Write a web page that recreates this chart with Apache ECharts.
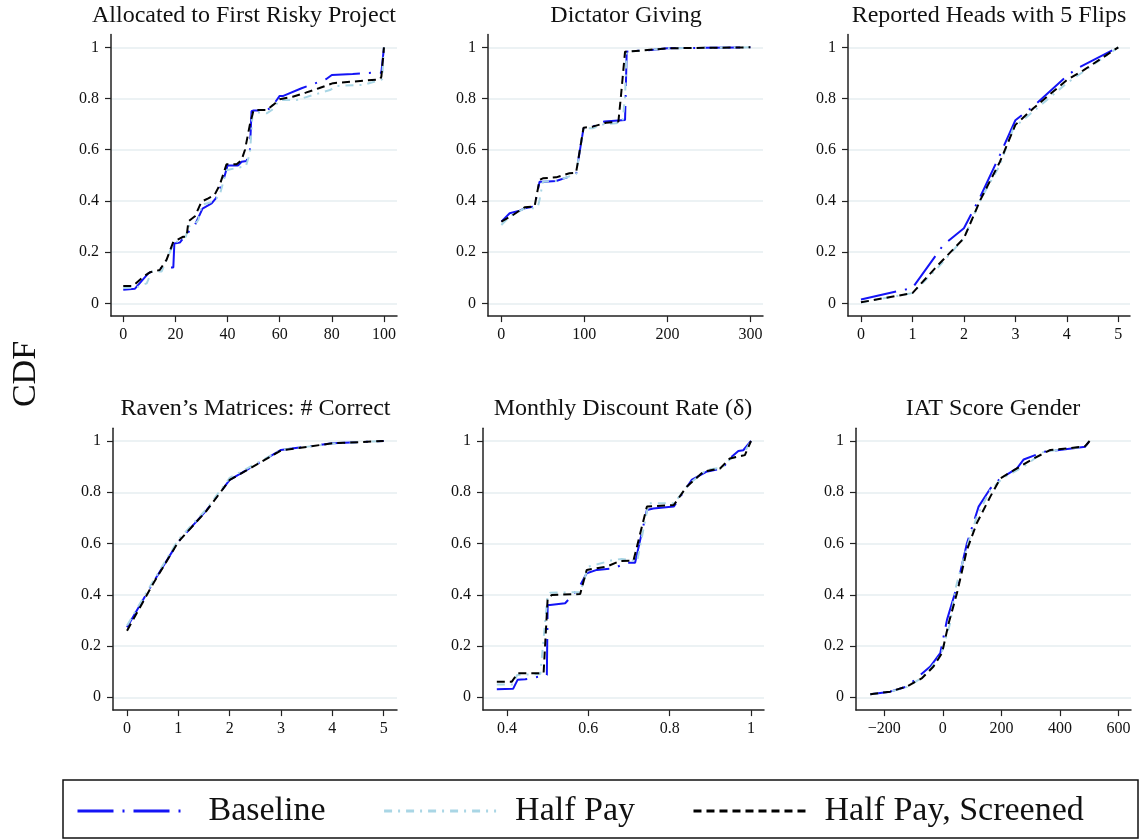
<!DOCTYPE html>
<html>
<head>
<meta charset="utf-8">
<script src="https://cdn.jsdelivr.net/npm/echarts@6/dist/echarts.min.js"></script>
<style>
html,body{margin:0;padding:0;background:#fff;}
#chart{width:1140px;height:840px;}
</style>
</head>
<body>
<div id="chart"></div>
<script>
// ---------- data ----------
const panelTitles = ["Allocated to First Risky Project", "Dictator Giving", "Reported Heads with 5 Flips",
  "Raven\u2019s Matrices: # Correct", "Monthly Discount Rate (\u03b4)", "IAT Score Gender"];
const seriesNames = ["Baseline", "Half Pay", "Half Pay, Screened"];
const yTicks = [0, 0.2, 0.4, 0.6, 0.8, 1];
const xTicks1 = [0, 20, 40, 60, 80, 100];
const xTicks2 = [0, 100, 200, 300];
const xTicks3 = [0, 1, 2, 3, 4, 5];
const xTicks4 = [0, 1, 2, 3, 4, 5];
const xTicks5 = [0.4, 0.6, 0.8, 1];
const xTicks6 = [-200, 0, 200, 400, 600];

// Panel 1: Allocated to First Risky Project
const p1Base = [[0,0.053],[4.5,0.057],[9.6,0.117],[11,0.124],[15,0.14],[19.2,0.14],[19.6,0.234],[21.7,0.237],[24,0.267],[27.5,0.306],[30.4,0.37],[33.9,0.39],[35.5,0.41],[38.4,0.48],[40,0.538],[44,0.538],[45.4,0.553],[47.3,0.556],[48.6,0.6],[49.2,0.75],[50,0.753],[55,0.753],[57,0.768],[60,0.81],[61.4,0.81],[68.4,0.84],[75.4,0.866],[77.9,0.876],[80,0.892],[88,0.896],[96,0.901],[99,0.901],[100,1]];
const p1Half = [[0,0.06],[5,0.062],[9,0.078],[10.9,0.124],[14.7,0.124],[18.5,0.215],[21.7,0.254],[24,0.26],[25,0.3],[27.5,0.31],[28.8,0.325],[30,0.384],[34.5,0.397],[37,0.423],[39.6,0.52],[44,0.53],[47,0.535],[48.6,0.586],[49.6,0.742],[50.5,0.747],[55,0.742],[57,0.755],[60,0.794],[66.5,0.794],[73,0.814],[79.3,0.833],[81.8,0.849],[92,0.853],[98.5,0.872],[99.3,0.875],[100,1]];
const p1Scr = [[0,0.068],[3.8,0.068],[7.7,0.104],[10.2,0.121],[14,0.13],[16.6,0.17],[19.2,0.24],[20.5,0.247],[23,0.26],[24.3,0.26],[25,0.32],[27.5,0.34],[30,0.397],[32.6,0.41],[35,0.423],[37,0.462],[39.6,0.543],[43.5,0.543],[45.4,0.56],[46.7,0.6],[48.6,0.70],[50,0.755],[55,0.755],[57.5,0.775],[60,0.797],[65,0.807],[70,0.823],[75,0.84],[80.5,0.86],[88,0.866],[98.5,0.875],[99,0.885],[100,1]];

// Panel 2: Dictator Giving
const p2Base = [[0,0.319],[10,0.352],[22,0.362],[28,0.371],[40,0.378],[46,0.475],[52,0.475],[66,0.478],[82,0.495],[90,0.505],[99,0.684],[110,0.69],[124,0.71],[149,0.716],[151,0.983],[167,0.987],[183,0.99],[200,0.996],[300,1]];
const p2Half = [[0,0.306],[10,0.339],[28,0.371],[40,0.371],[44,0.378],[46,0.404],[50,0.475],[66,0.478],[90,0.505],[99,0.684],[110,0.684],[124,0.70],[138,0.703],[146,0.71],[149,0.807],[151,0.983],[167,0.987],[200,0.996],[300,1]];
const p2Scr = [[0,0.319],[14,0.345],[28,0.375],[40,0.378],[46,0.482],[50,0.488],[66,0.492],[82,0.508],[90,0.51],[99,0.686],[110,0.69],[126,0.705],[141,0.71],[144,0.807],[149,0.983],[167,0.987],[200,0.996],[300,1]];

// Panel 3: Reported Heads with 5 Flips
const p3Base = [[0,0.015],[1,0.06],[1.6,0.228],[2,0.293],[2.32,0.417],[2.7,0.58],[3,0.715],[3.35,0.77],[4,0.888],[4.2,0.918],[5,1]];
const p3Half = [[0,0.003],[1,0.04],[1.5,0.14],[2,0.254],[2.32,0.404],[2.7,0.54],[2.96,0.684],[3.35,0.75],[4,0.86],[5,1]];
const p3Scr = [[0,0.004],[1,0.04],[1.5,0.15],[2,0.254],[2.32,0.404],[2.7,0.553],[3,0.697],[3.35,0.762],[4,0.872],[4.32,0.91],[5,1]];

// Panel 4: Raven's Matrices
const p4Base = [[0,0.273],[0.5,0.445],[1,0.607],[1.55,0.73],[2,0.848],[3,0.965],[4,0.991],[5,1]];
const p4Half = [[0,0.28],[0.5,0.45],[1,0.615],[1.55,0.735],[2,0.856],[3,0.965],[4,0.99],[5,1]];
const p4Scr = [[0,0.26],[0.5,0.44],[1,0.607],[1.55,0.728],[2,0.848],[3,0.963],[4,0.991],[5,1]];

// Panel 5: Monthly Discount Rate
const p5Base = [[0.375,0.031],[0.415,0.033],[0.426,0.068],[0.445,0.07],[0.498,0.087],[0.5,0.36],[0.506,0.36],[0.543,0.367],[0.576,0.425],[0.596,0.484],[0.621,0.497],[0.662,0.503],[0.695,0.525],[0.715,0.525],[0.744,0.731],[0.76,0.737],[0.81,0.744],[0.854,0.848],[0.89,0.88],[0.93,0.893],[0.948,0.932],[0.969,0.961],[0.981,0.964],[1,1]];
const p5Half = [[0.375,0.05],[0.415,0.05],[0.425,0.087],[0.482,0.091],[0.5,0.4],[0.506,0.408],[0.58,0.41],[0.6,0.51],[0.662,0.536],[0.682,0.54],[0.72,0.53],[0.748,0.757],[0.81,0.757],[0.85,0.835],[0.89,0.887],[0.93,0.897],[0.95,0.932],[0.98,0.945],[1,1]];
const p5Scr = [[0.375,0.061],[0.412,0.061],[0.426,0.094],[0.49,0.094],[0.5,0.386],[0.51,0.399],[0.58,0.403],[0.596,0.497],[0.645,0.51],[0.678,0.532],[0.711,0.533],[0.744,0.744],[0.81,0.75],[0.842,0.822],[0.883,0.88],[0.924,0.893],[0.948,0.932],[0.985,0.945],[1,1]];

// Panel 6: IAT Score Gender
const p6Base = [[-248,0.012],[-180,0.022],[-123,0.042],[-83,0.081],[-43,0.12],[-9,0.172],[14,0.302],[48,0.432],[82,0.6],[122,0.744],[162,0.815],[196,0.854],[253,0.893],[276,0.928],[344,0.958],[412,0.967],[486,0.978],[501,1]];
const p6Half = [[-248,0.012],[-180,0.022],[-123,0.04],[-80,0.07],[-40,0.115],[-5,0.17],[25,0.29],[42,0.42],[80,0.58],[116,0.705],[162,0.81],[208,0.858],[276,0.9],[344,0.958],[486,0.978],[501,1]];
const p6Scr = [[-248,0.012],[-180,0.022],[-123,0.042],[-71,0.075],[-32,0.12],[-3,0.172],[20,0.29],[48,0.406],[82,0.575],[116,0.68],[162,0.783],[196,0.854],[253,0.893],[310,0.932],[367,0.965],[424,0.971],[486,0.98],[501,1]];

// ---------- layout / style ----------
const FONT = "'Liberation Serif', 'Times New Roman', 'DejaVu Serif', serif";
const panels = [
  {data:[p1Base,p1Half,p1Scr], ticks:xTicks1, xmin:-4.7,  xmax:105,   grid:{left:111, top:34.5, width:286, height:281.6}, tx:244,   ty:16},
  {data:[p2Base,p2Half,p2Scr], ticks:xTicks2, xmin:-16.1, xmax:315.2, grid:{left:488, top:34.5, width:275, height:281.6}, tx:626,   ty:16},
  {data:[p3Base,p3Half,p3Scr], ticks:xTicks3, xmin:-0.252,xmax:5.227, grid:{left:848, top:34.5, width:282, height:281.6}, tx:989,   ty:16},
  {data:[p4Base,p4Half,p4Scr], ticks:xTicks4, xmin:-0.273,xmax:5.26,  grid:{left:113, top:428.2,width:284, height:281.9}, tx:255.5, ty:409},
  {data:[p5Base,p5Half,p5Scr], ticks:xTicks5, xmin:0.341, xmax:1.032, grid:{left:483, top:428.2,width:281, height:281.9}, tx:623,   ty:409},
  {data:[p6Base,p6Half,p6Scr], ticks:xTicks6, xmin:-296.6,xmax:642.3, grid:{left:856, top:428.2,width:275, height:281.9}, tx:993,   ty:409}
];
const lineStyles = [
  {color:'#1414f5', width:2, type:[36,9,2,9]},
  {color:'#a9d6e5', width:2, type:[8,6,2,6]},
  {color:'#000000', width:2, type:[8,5]}
];
const axisColor = '#222';
const gridColor = '#e6eef1';

const grids = [], xAxes = [], yAxes = [], series = [], graphics = [];
panels.forEach((p, i) => {
  grids.push(Object.assign({outerBoundsMode:'none', containLabel:false}, p.grid));
  xAxes.push({
    type:'value', gridIndex:i, min:p.xmin, max:p.xmax,
    axisLine:{show:true, onZero:false, lineStyle:{color:axisColor, width:1.5}},
    axisTick:{show:true, length:6, customValues:p.ticks, lineStyle:{color:axisColor, width:1.2}},
    axisLabel:{customValues:p.ticks, margin:11, color:'#111', fontSize:16, fontFamily:FONT,
      formatter:v => String(v).replace('-', '\u2212')},
    splitLine:{show:false}
  });
  yAxes.push({
    type:'value', gridIndex:i, min:-0.05, max:1.05,
    axisLine:{show:true, onZero:false, lineStyle:{color:axisColor, width:1.5}},
    axisTick:{show:true, length:6, customValues:yTicks, lineStyle:{color:axisColor, width:1.2}},
    axisLabel:{customValues:yTicks, margin:12, color:'#111', fontSize:16, fontFamily:FONT},
    splitLine:{show:true, lineStyle:{color:gridColor, width:1.5}}
  });
  p.data.forEach((d, k) => {
    series.push({
      name:seriesNames[k], type:'line', xAxisIndex:i, yAxisIndex:i, data:d,
      symbol:'none', showSymbol:false, silent:true, animation:false,
      lineStyle:lineStyles[k], itemStyle:{color:lineStyles[k].color}, z:2+k
    });
  });
  graphics.push({type:'text', x:p.tx, y:p.ty, silent:true,
    style:{text:panelTitles[i], font:'24px ' + FONT, fill:'#111',
      textAlign:'center', textVerticalAlign:'middle', align:'center', verticalAlign:'middle'}});
});

graphics.push({type:'text', x:26, y:374, rotation:Math.PI/2, silent:true,
  style:{text:'CDF', font:'34px ' + FONT, fill:'#111',
    textAlign:'center', textVerticalAlign:'middle', align:'center', verticalAlign:'middle'}});
graphics.push({type:'rect', silent:true, z:-1,
  shape:{x:63, y:780, width:1075, height:58},
  style:{fill:'#fff', stroke:'#111', lineWidth:1.5}});

const option = {
  backgroundColor:'#fff',
  animation:false,
  grid:grids, xAxis:xAxes, yAxis:yAxes, series:series,
  graphic:graphics,
  legend:{
    data:seriesNames, left:76, top:794, orient:'horizontal',
    itemWidth:112, itemHeight:14, itemGap:57, padding:0,
    itemStyle:{opacity:0},
    lineStyle:{width:3},
    textStyle:{fontSize:34, fontFamily:FONT, color:'#111', padding:[0,0,0,14]},
    selectedMode:false
  },
  tooltip:{show:false}
};
const chart = echarts.init(document.getElementById('chart'), null, {renderer:'canvas'});
chart.setOption(option);
</script>
</body>
</html>
